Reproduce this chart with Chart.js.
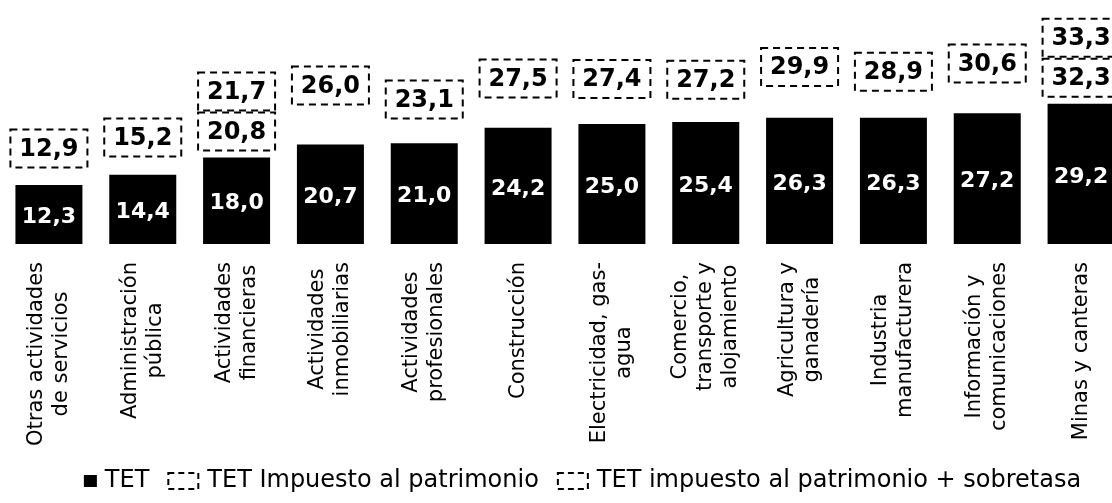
<!DOCTYPE html>
<html>
<head>
<meta charset="utf-8">
<script src="https://cdn.jsdelivr.net/npm/chart.js@4/dist/chart.umd.min.js"></script>
<style>
  html, body { margin: 0; padding: 0; background: #fff; overflow: hidden; }
</style>
</head>
<body>
<canvas id="grafico" width="1130" height="503"></canvas>
<script>
// sectores (eje x), una entrada por linea de la etiqueta
const sectores = [
  ['Otras actividades', 'de servicios'],
  ['Administración', 'pública'],
  ['Actividades', 'financieras'],
  ['Actividades', 'inmobiliarias'],
  ['Actividades', 'profesionales'],
  ['Construcción'],
  ['Electricidad, gas-', 'agua'],
  ['Comercio,', 'transporte y', 'alojamiento'],
  ['Agricultura y', 'ganadería'],
  ['Industria', 'manufacturera'],
  ['Información y', 'comunicaciones'],
  ['Minas y canteras']
];
const tet = [12.3, 14.4, 18.0, 20.7, 21.0, 24.2, 25.0, 25.4, 26.3, 26.3, 27.2, 29.2];
const tetPatrimonio = [12.9, 15.2, 20.8, 26.0, 23.1, 27.5, 27.4, 27.2, 29.9, 28.9, 30.6, 32.3];
const tetSobretasa = [null, null, 21.7, null, null, null, null, null, null, null, null, 33.3];

const fmt = v => v.toFixed(1).replace('.', ',');

// iconos de la leyenda
function icono(tipo) {
  const c = document.createElement('canvas');
  c.width = 34; c.height = 20;
  const g = c.getContext('2d');
  if (tipo === 'solido') {
    g.fillStyle = '#000';
    g.fillRect(20, 4, 13, 12);
  } else {
    g.strokeStyle = '#000';
    g.lineWidth = 2;
    g.setLineDash([6, 4]);
    g.strokeRect(2, 2, 30, 16);
  }
  return c;
}
const iconos = [icono('solido'), icono('punteado'), icono('punteado')];

const cajas = {
  id: 'cajas',
  afterLayout(chart) {
    // la leyenda del original esta algo corrida a la derecha
    chart.legend.left += 10;
    chart.legend.right += 10;
  },
  afterDatasetsDraw(chart) {
    const ctx = chart.ctx;
    const y = chart.scales.y;
    const barras = chart.getDatasetMeta(0).data;
    const W = 77, H = 38;

    const caja = (cx, bottom, v) => {
      ctx.save();
      ctx.strokeStyle = '#000';
      ctx.lineWidth = 2;
      ctx.setLineDash([7, 5]);
      ctx.strokeRect(cx - W / 2, bottom - H, W, H);
      ctx.setLineDash([]);
      ctx.fillStyle = '#000';
      ctx.font = 'bold 24px "DejaVu Sans"';
      ctx.textAlign = 'center';
      ctx.textBaseline = 'middle';
      ctx.fillText(fmt(v), cx, bottom - H / 2 + 1);
      ctx.restore();
    };

    barras.forEach((bar, i) => {
      // etiqueta blanca dentro de la barra
      ctx.save();
      ctx.fillStyle = '#fff';
      ctx.font = 'bold 22px "DejaVu Sans"';
      ctx.textAlign = 'center';
      ctx.textBaseline = 'middle';
      ctx.fillText(fmt(tet[i]), bar.x, (bar.y + bar.base) / 2 + 3);
      ctx.restore();

      if (tetSobretasa[i] != null) {
        const b1 = bar.y - 7;
        caja(bar.x, b1, tetPatrimonio[i]);
        caja(bar.x, b1 - H - 2, tetSobretasa[i]);
      } else {
        caja(bar.x, y.getPixelForValue(tetPatrimonio[i]) - 14.5, tetPatrimonio[i]);
      }
    });
  },
  afterDraw(chart) {
    const ctx = chart.ctx;
    const x = chart.scales.x;
    const top = chart.chartArea.bottom + 18;
    const lh = 25;
    ctx.save();
    ctx.fillStyle = '#000';
    ctx.font = '21px "DejaVu Sans"';
    ctx.textAlign = 'center';
    ctx.textBaseline = 'middle';
    sectores.forEach((lineas, i) => {
      const cx = x.getPixelForValue(i);
      const maxW = Math.max(...lineas.map(l => ctx.measureText(l).width));
      lineas.forEach((l, k) => {
        const off = (k - (lineas.length - 1) / 2) * lh;
        ctx.save();
        ctx.translate(cx + off, top + maxW / 2);
        ctx.rotate(-Math.PI / 2);
        ctx.fillText(l, 0, 0);
        ctx.restore();
      });
    });
    ctx.restore();
  }
};

new Chart(document.getElementById('grafico'), {
  type: 'bar',
  data: {
    labels: sectores,
    datasets: [
      { label: 'TET', data: tet, backgroundColor: '#000', grouped: false },
      { label: 'TET Impuesto al patrimonio', data: tetPatrimonio, backgroundColor: 'rgba(0,0,0,0)', grouped: false },
      { label: 'TET impuesto al patrimonio + sobretasa', data: tetSobretasa, backgroundColor: 'rgba(0,0,0,0)', grouped: false }
    ]
  },
  options: {
    responsive: false,
    animation: false,
    devicePixelRatio: 1,
    layout: { padding: { left: 2, right: 2, top: 0, bottom: 0 } },
    datasets: { bar: { barPercentage: 0.714, categoryPercentage: 1 } },
    plugins: {
      tooltip: { enabled: false },
      legend: {
        position: 'bottom',
        labels: {
          usePointStyle: true,
          pointStyleWidth: 24,
          padding: 22,
          color: '#000',
          font: { family: 'DejaVu Sans', size: 24 },
          generateLabels: chart => chart.data.datasets.map((ds, i) => ({
            text: ds.label,
            pointStyle: iconos[i],
            fillStyle: '#000',
            strokeStyle: '#000',
            lineWidth: 0,
            hidden: false,
            datasetIndex: i
          }))
        }
      }
    },
    scales: {
      x: {
        grid: { display: false },
        border: { display: false },
        ticks: { display: false },
        afterFit: s => { s.height = 203; }
      },
      y: { display: false, min: 0, max: 50.8 }
    }
  },
  plugins: [cajas]
});
</script>
</body>
</html>
